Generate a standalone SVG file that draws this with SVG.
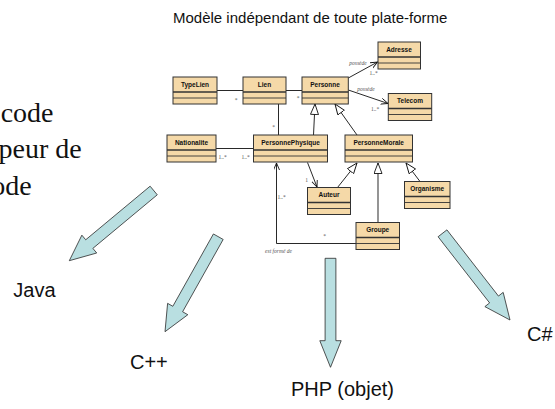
<svg xmlns="http://www.w3.org/2000/svg" width="555" height="409" viewBox="0 0 555 409">
<style>
.bg{fill:#ffffff}
.cls rect{fill:#f5d9a8;stroke:#333;stroke-width:1}
.cls .sep{stroke:#333;stroke-width:1.6}
.cls .sep2{stroke:#333;stroke-width:0.9}
.cname{font-family:"Liberation Sans",Arial,sans-serif;font-weight:bold;font-size:6.5px;fill:#111;text-anchor:middle}
.ln{fill:none;stroke:#111;stroke-width:0.9}
.lng{fill:none;stroke:#7a7a7a;stroke-width:1.6}
.lbl{font-family:"Liberation Serif","Times New Roman",serif;font-size:5.5px;fill:#555}
.lbli{font-family:"Liberation Serif","Times New Roman",serif;font-size:5.5px;font-style:italic;fill:#555}
.big{fill:#b9dfe1;stroke:#2a2a2a;stroke-width:0.8}
.lang{font-family:"Liberation Sans",Arial,sans-serif;font-size:20px;fill:#111}
.side{font-family:"Liberation Serif","Times New Roman",serif;font-size:28px;fill:#111;text-anchor:end}
.title{font-family:"Liberation Sans",Arial,sans-serif;font-size:15px;fill:#111}
</style>
<defs>
<marker id="gen" markerUnits="userSpaceOnUse" markerWidth="14" markerHeight="12" refX="11" refY="4.5" orient="auto">
<path d="M0.5,0.5 L11,4.5 L0.5,8.5 z" fill="#fff" stroke="#111" stroke-width="0.9"/>
</marker>
<marker id="open" markerUnits="userSpaceOnUse" markerWidth="10" markerHeight="8" refX="7" refY="3" orient="auto">
<path d="M0,0 L7,3 L0,6" fill="none" stroke="#111" stroke-width="0.9"/>
</marker>
</defs>
<rect class="bg" x="0" y="0" width="555" height="409"/>

<g id="side-text">
<text class="side" x="53.5" y="121.7">code</text>
<text class="side" x="81.7" y="158.3">peur de</text>
<text class="side" x="31.7" y="195">ode</text>
</g>

<text class="title" x="173" y="23">Modèle indépendant de toute plate-forme</text>

<g id="connectors">
<line class="ln" x1="217" y1="90.5" x2="243" y2="90.5"/>
<line class="ln" x1="286" y1="90.5" x2="302" y2="90.5"/>
<line class="ln" x1="278.5" y1="104" x2="278.5" y2="135"/>
<line class="ln" x1="216" y1="148.5" x2="253.5" y2="148.5"/>
<line class="ln" x1="348.3" y1="78" x2="377.5" y2="62" marker-end="url(#open)"/>
<line class="ln" x1="348.3" y1="90" x2="388" y2="103.5" marker-end="url(#open)"/>
<line class="ln" x1="313.5" y1="135" x2="315" y2="104" marker-end="url(#gen)"/>
<line class="ln" x1="357" y1="135" x2="335" y2="104" marker-end="url(#gen)"/>
<line class="ln" x1="307.5" y1="162.5" x2="317" y2="187" marker-end="url(#open)"/>
<line class="ln" x1="337.5" y1="187.5" x2="357" y2="163" marker-end="url(#gen)"/>
<line class="lng" x1="378" y1="222.5" x2="378" y2="163" marker-end="url(#gen)"/>
<line class="ln" x1="420" y1="181.5" x2="406" y2="163" marker-end="url(#gen)"/>
<polyline class="ln" points="356,243.5 276.5,243.5 276.5,163" marker-end="url(#open)"/>
<text class="lbli" x="358" y="64.5" text-anchor="middle">possède</text>
<text class="lbl" x="373.5" y="74.5" text-anchor="middle">1..*</text>
<text class="lbli" x="366" y="91" text-anchor="middle">possède</text>
<text class="lbl" x="375" y="111" text-anchor="middle">1..*</text>
<text class="lbl" x="236" y="102" text-anchor="middle">*</text>
<text class="lbl" x="298" y="100" text-anchor="middle">*</text>
<text class="lbl" x="273.5" y="129" text-anchor="middle">*</text>
<text class="lbl" x="222.5" y="158.5" text-anchor="middle">1..*</text>
<text class="lbl" x="245.5" y="158.5" text-anchor="middle">1..*</text>
<text class="lbl" x="306.7" y="182" text-anchor="middle">1</text>
<text class="lbl" x="281.5" y="198.5" text-anchor="middle">1..*</text>
<text class="lbl" x="324.5" y="237.5" text-anchor="middle">*</text>
<text class="lbli" x="278.5" y="253" text-anchor="middle">est formé de</text>
</g>

<g id="TypeLien" class="cls"><rect x="173" y="77" width="44" height="27"/><line class="sep" x1="173" y1="92" x2="217" y2="92"/><line class="sep2" x1="173" y1="98" x2="217" y2="98"/><text class="cname" x="195" y="86.8">TypeLien</text></g>
<g id="Lien" class="cls"><rect x="243" y="77" width="43" height="27"/><line class="sep" x1="243" y1="92" x2="286" y2="92"/><line class="sep2" x1="243" y1="98" x2="286" y2="98"/><text class="cname" x="264.5" y="86.8">Lien</text></g>
<g id="Personne" class="cls"><rect x="302" y="77" width="46.3" height="27"/><line class="sep" x1="302" y1="92" x2="348.3" y2="92"/><line class="sep2" x1="302" y1="98" x2="348.3" y2="98"/><text class="cname" x="325" y="86.8">Personne</text></g>
<g id="Adresse" class="cls"><rect x="378" y="42" width="42.5" height="27"/><line class="sep" x1="378" y1="57" x2="420.5" y2="57"/><line class="sep2" x1="378" y1="63" x2="420.5" y2="63"/><text class="cname" x="399" y="51.8">Adresse</text></g>
<g id="Telecom" class="cls"><rect x="388.3" y="93.5" width="43.4" height="27"/><line class="sep" x1="388.3" y1="108.5" x2="431.7" y2="108.5"/><line class="sep2" x1="388.3" y1="114.5" x2="431.7" y2="114.5"/><text class="cname" x="410" y="103.3">Telecom</text></g>
<g id="Nationalite" class="cls"><rect x="167" y="135" width="49" height="27"/><line class="sep" x1="167" y1="150" x2="216" y2="150"/><line class="sep2" x1="167" y1="156" x2="216" y2="156"/><text class="cname" x="191.5" y="144.8">Nationalite</text></g>
<g id="PersonnePhysique" class="cls"><rect x="253.5" y="135" width="74" height="27"/><line class="sep" x1="253.5" y1="150" x2="327.5" y2="150"/><line class="sep2" x1="253.5" y1="156" x2="327.5" y2="156"/><text class="cname" x="290.5" y="144.8">PersonnePhysique</text></g>
<g id="PersonneMorale" class="cls"><rect x="345" y="135" width="67.5" height="27"/><line class="sep" x1="345" y1="150" x2="412.5" y2="150"/><line class="sep2" x1="345" y1="156" x2="412.5" y2="156"/><text class="cname" x="378.7" y="144.8">PersonneMorale</text></g>
<g id="Auteur" class="cls"><rect x="307.5" y="187.5" width="43" height="27"/><line class="sep" x1="307.5" y1="202.5" x2="350.5" y2="202.5"/><line class="sep2" x1="307.5" y1="208.5" x2="350.5" y2="208.5"/><text class="cname" x="329" y="197.3">Auteur</text></g>
<g id="Organisme" class="cls"><rect x="404.5" y="181.5" width="45.5" height="27"/><line class="sep" x1="404.5" y1="196.5" x2="450" y2="196.5"/><line class="sep2" x1="404.5" y1="202.5" x2="450" y2="202.5"/><text class="cname" x="427.2" y="191.3">Organisme</text></g>
<g id="Groupe" class="cls"><rect x="356" y="222.5" width="43.5" height="27"/><line class="sep" x1="356" y1="237.5" x2="399.5" y2="237.5"/><line class="sep2" x1="356" y1="243.5" x2="399.5" y2="243.5"/><text class="cname" x="377.7" y="232.3">Groupe</text></g>

<g id="arrow-java"><polygon class="big" points="150.12,186.2 85.71,239.78 81.87,235.16 69.3,260.7 96.71,253 92.87,248.38 157.28,194.8"/></g>
<g id="arrow-cpp"><polygon class="big" points="213.42,233.96 172.84,306.29 167.6,303.35 165,331.7 187.84,314.71 182.6,311.77 223.18,239.44"/></g>
<g id="arrow-php"><polygon class="big" points="325.1,258.3 325.1,340.7 319.8,340.7 330.5,367.3 341.2,340.7 335.9,340.7 335.9,258.3"/></g>
<g id="arrow-cs"><polygon class="big" points="438.08,236.74 489.61,302.93 484.88,306.62 510,320 503.18,292.36 498.45,296.05 446.92,229.86"/></g>

<g id="Java"><text class="lang" x="13.3" y="297.3">Java</text></g>
<g id="Cpp"><text class="lang" x="130" y="369.3">C++</text></g>
<g id="PHP"><text class="lang" x="291" y="396">PHP (objet)</text></g>
<g id="Csharp"><text class="lang" x="527" y="341">C#</text></g>
</svg>
